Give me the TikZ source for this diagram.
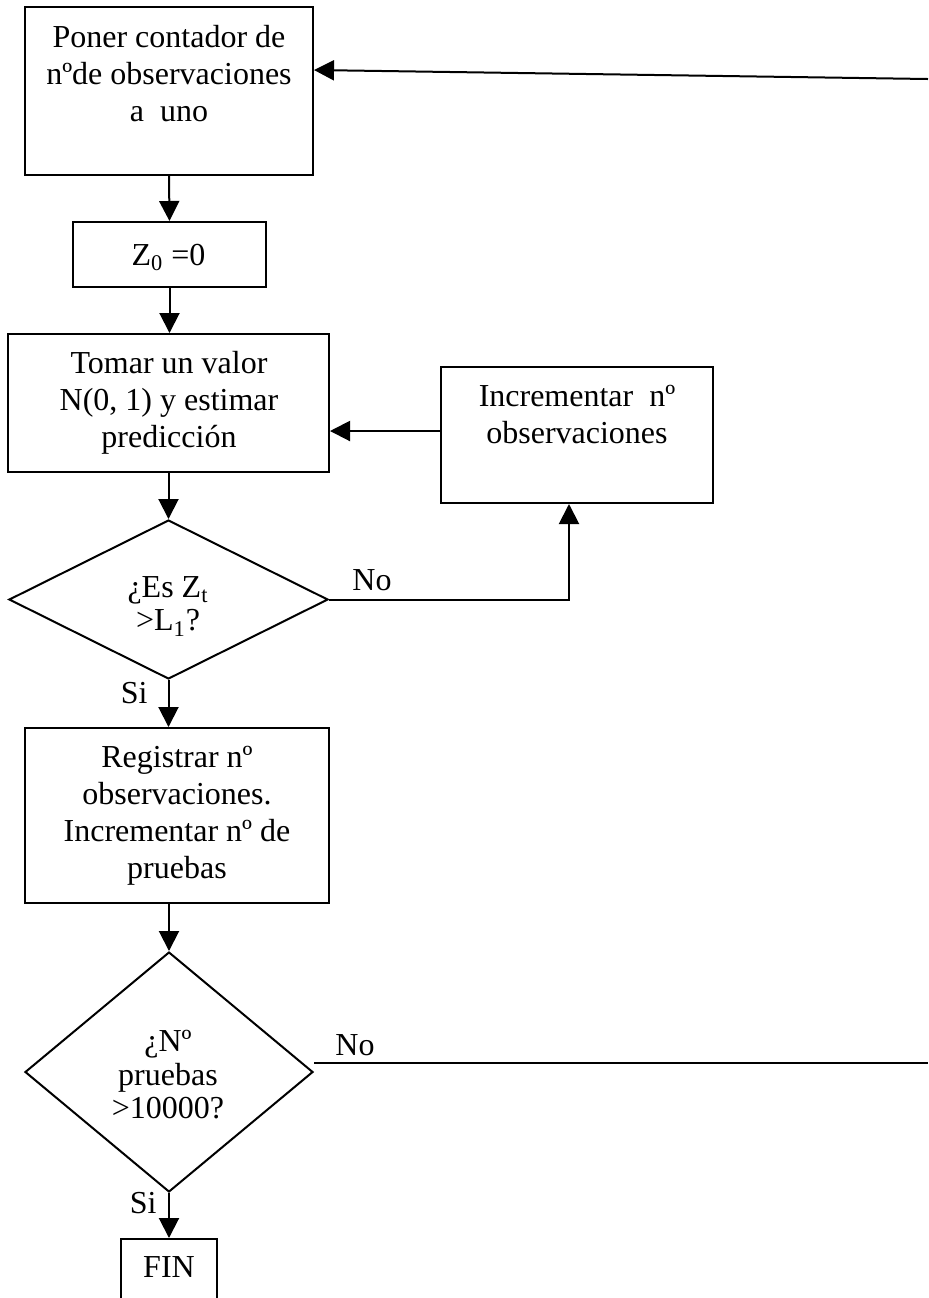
\documentclass[tikz,border=0pt]{standalone}
\usepackage{fontspec}
\setmainfont{Liberation Serif}
\usetikzlibrary{arrows.meta,shapes.geometric}
\tikzset{
  box/.style={draw, line width=1pt, rectangle, inner sep=0pt},
  dia/.style={draw, line width=1pt, diamond, inner sep=0pt},
  txt/.style={inner sep=0pt, align=center, font=\fontsize{16pt}{18.5pt}\selectfont},
  dtxt/.style={inner sep=0pt, align=center, font=\fontsize{16pt}{16.75pt}\selectfont},
  lbl/.style={inner sep=0pt, font=\fontsize{16pt}{18.5pt}\selectfont},
  conn/.style={line width=1pt},
  arr/.style={line width=1pt, -{Triangle[length=10pt,width=10pt]}}
}
\begin{document}
\begin{tikzpicture}[x=0.5pt,y=-0.5pt]
\useasboundingbox (0,0) rectangle (928,1298);
\clip (0,0) rectangle (928,1298);
% boxes
\node[box, minimum width=144pt, minimum height=84pt] (init) at (169,91) {};
\node[txt, anchor=north] (initt) at (169,25) {Poner contador de\\nºde observaciones\\a\ \ uno};
\node[box, minimum width=96.5pt, minimum height=32.5pt] (z0) at (169.5,254.5) {};
\node[lbl, anchor=base] (z0t) at (168.5,265) {Z\textsubscript{0} =0};
\node[box, minimum width=160.5pt, minimum height=69pt] (tomar) at (168.5,403) {};
\node[txt, anchor=north] (tomart) at (169,351) {Tomar un valor\\N(0, 1) y estimar\\predicción};
\node[box, minimum width=136pt, minimum height=68pt] (inc) at (577,435) {};
\node[txt, anchor=north] (inct) at (577,385) {Incrementar\ \ nº\\observaciones};
\node[dia, minimum width=159.5pt, minimum height=79.5pt] (d1) at (168.5,599.5) {};
\node[dtxt, anchor=north] (d1t) at (168,576) {¿Es Z\textsubscript{t}\\>L\textsubscript{1}?};
\node[box, minimum width=152pt, minimum height=87.5pt] (reg) at (177,815.5) {};
\node[txt, anchor=north] (regt) at (177,746) {Registrar nº\\observaciones.\\Incrementar nº de\\pruebas};
\node[dia, minimum width=144pt, minimum height=120pt] (d2) at (169,1072) {};
\node[dtxt, anchor=north] (d2t) at (168,1030) {¿Nº\\pruebas\\>10000?};
\node[box, minimum width=48pt, minimum height=40pt] (fin) at (169,1279) {};
\node[lbl, anchor=base] (fint) at (169,1277) {FIN};
% labels
\node[lbl, anchor=base west] (no1) at (352,590) {No};
\node[lbl, anchor=base east] (si1) at (148,703) {Si};
\node[lbl, anchor=base west] (no2) at (335,1055) {No};
\node[lbl, anchor=base east] (si2) at (157,1213) {Si};
% free ends
\coordinate (rtop) at (928,79);
\coordinate (rbot) at (928,1063);
\coordinate (fb) at (0,431);
% connectors
\draw[arr] (rtop) -- ([yshift=10.5pt]init.east);
\draw[arr] (init.south) -- (z0.north);
\draw[arr] (z0.south) -- (z0.south |- tomar.north);
\draw[arr] (inc.west |- fb) -- (tomar.east |- fb);
\draw[arr] (tomar.south -| d1.north) -- (d1.north);
\draw[arr] (d1.east) -| ([xshift=-4pt]inc.south);
\draw[arr] (d1.south) -- (d1.south |- reg.north);
\draw[arr] (d2.north |- reg.south) -- (d2.north);
\draw[conn] ([yshift=4.5pt]d2.east) -- (rbot);
\draw[arr] (d2.south) -- (fin.north);
\end{tikzpicture}
\end{document}
